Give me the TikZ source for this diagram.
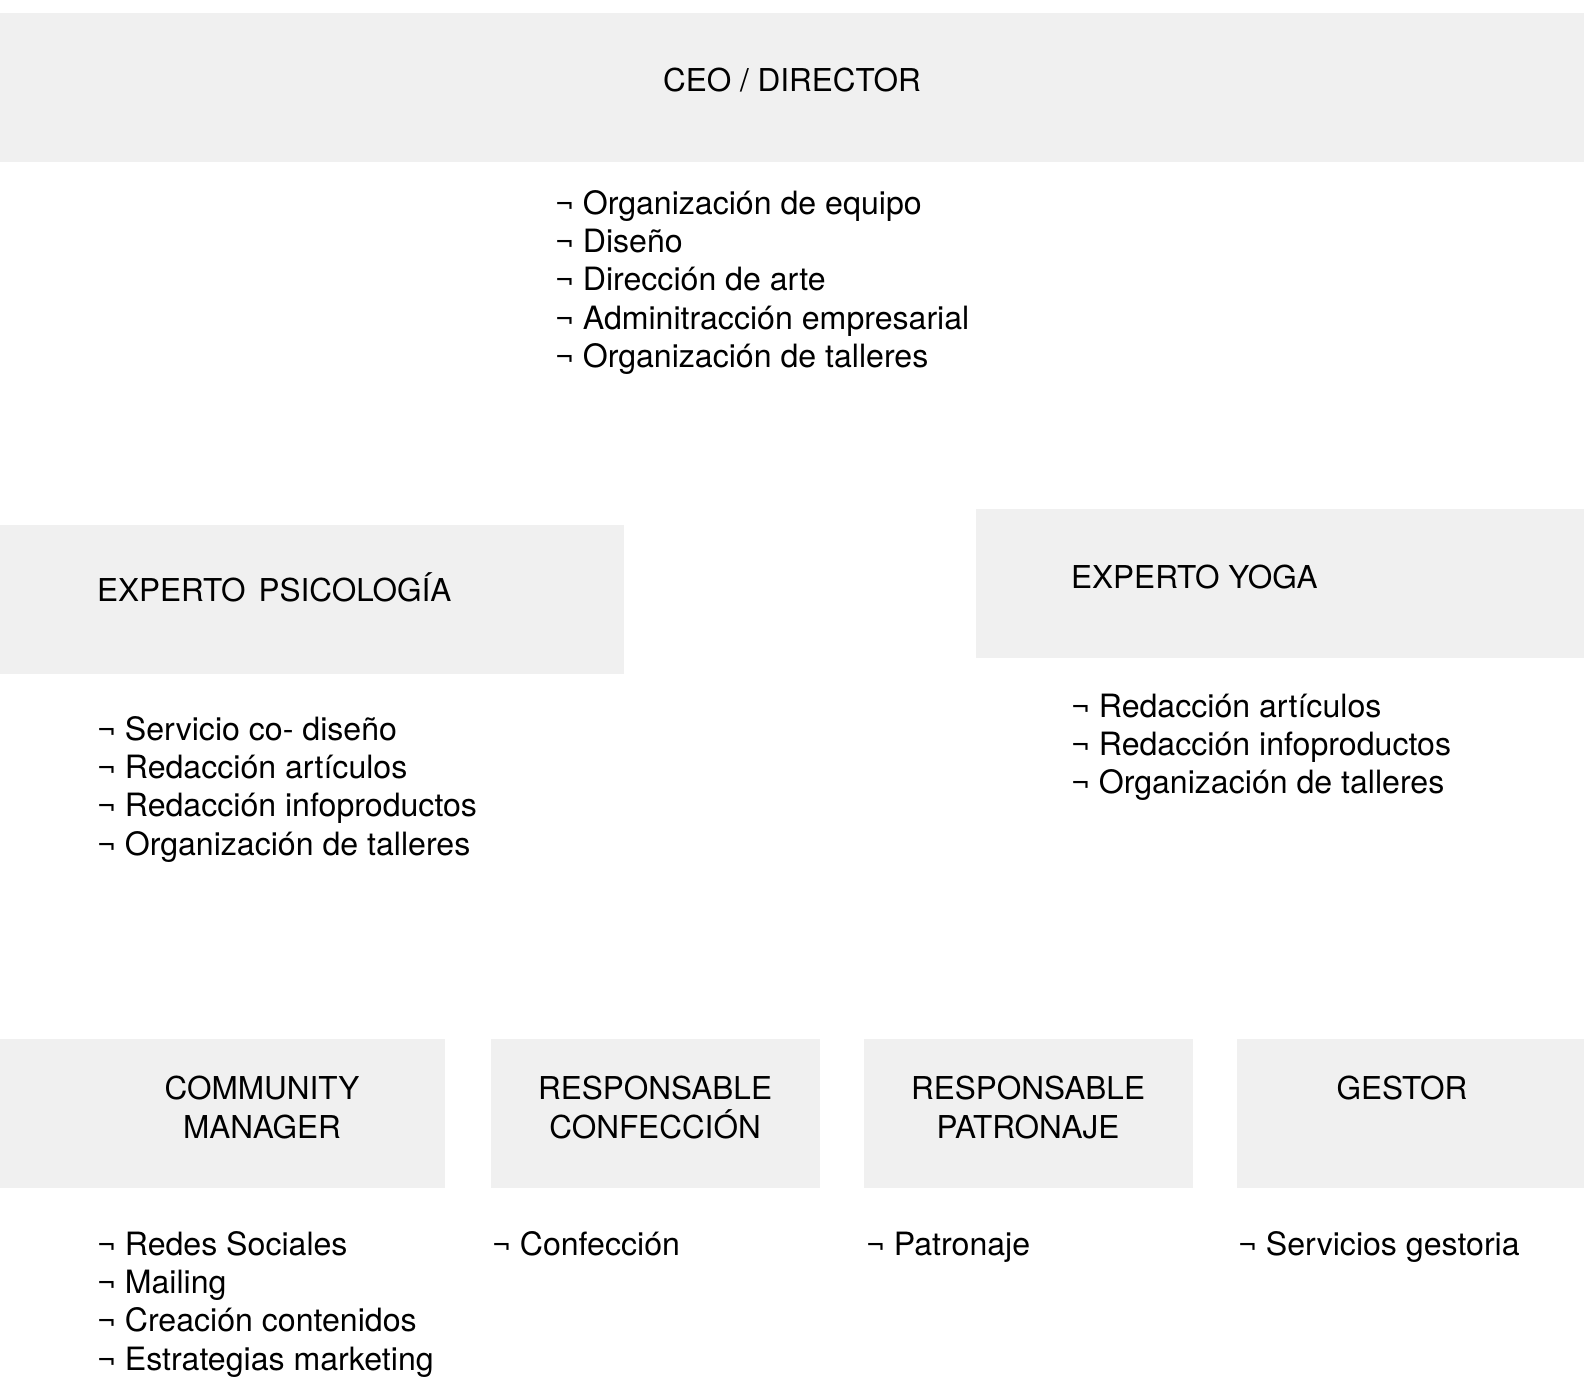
\documentclass[tikz,border=0pt]{standalone}
\usepackage{fontspec}
\setmainfont{TeX Gyre Heros}
\definecolor{boxgray}{RGB}{240,240,240}
\begin{document}
\begin{tikzpicture}[x=1pt,y=-1pt,
  rolebox/.style={fill=boxgray,draw=none},
  role/.style={inner sep=0pt,font=\fontsize{31.5}{39}\selectfont,align=center},
  tasks/.style={inner sep=0pt,anchor=base west,align=left,font=\fontsize{32.1}{38.3}\selectfont}]
\useasboundingbox (0,0) rectangle (1584,1376);
% background bands for each role
\fill[rolebox] (0,13) rectangle (1584,162);
\fill[rolebox] (0,525) rectangle (624,674);
\fill[rolebox] (976,509) rectangle (1584,658);
\fill[rolebox] (0,1039) rectangle (445,1188);
\fill[rolebox] (491,1039) rectangle (820,1188);
\fill[rolebox] (864,1039) rectangle (1193,1188);
\fill[rolebox] (1237,1039) rectangle (1584,1188);
% role titles (base anchor sits on the last line)
\node[role,anchor=base] (ceo) at (792,91.3) {CEO / DIRECTOR};
\node[role,anchor=base west] (psico) at (97,601.3) {EXPERTO\hspace{13pt}PSICOLOGÍA};
\node[role,anchor=base west] (yoga) at (1071,588.3) {EXPERTO YOGA};
\node[role,anchor=base] (cm) at (262,1138.3) {COMMUNITY\\MANAGER};
\node[role,anchor=base] (conf) at (655,1138.3) {RESPONSABLE\\CONFECCIÓN};
\node[role,anchor=base] (patr) at (1028,1138.3) {RESPONSABLE\\PATRONAJE};
\node[role,anchor=base] (gest) at (1402,1099.3) {GESTOR};
% task lists (base anchor sits on the last line)
\node[tasks] (ceotasks) at (555,367.5) {¬ Organización de equipo\\¬ Diseño\\¬ Dirección de arte\\¬ Adminitracción empresarial\\¬ Organización de talleres};
\node[tasks] (psicotasks) at (97,855.2) {¬ Servicio co- diseño\\¬ Redacción artículos\\¬ Redacción infoproductos\\¬ Organización de talleres};
\node[tasks] (yogatasks) at (1071,793.9) {¬ Redacción artículos\\¬ Redacción infoproductos\\¬ Organización de talleres};
\node[tasks] (cmtasks) at (97,1370.2) {¬ Redes Sociales\\¬ Mailing\\¬ Creación contenidos\\¬ Estrategias marketing};
\node[tasks] (conftasks) at (492,1255.3) {¬ Confección};
\node[tasks] (patrtasks) at (866,1255.3) {¬ Patronaje};
\node[tasks] (gesttasks) at (1238,1255.3) {¬ Servicios gestoria};
\end{tikzpicture}
\end{document}
